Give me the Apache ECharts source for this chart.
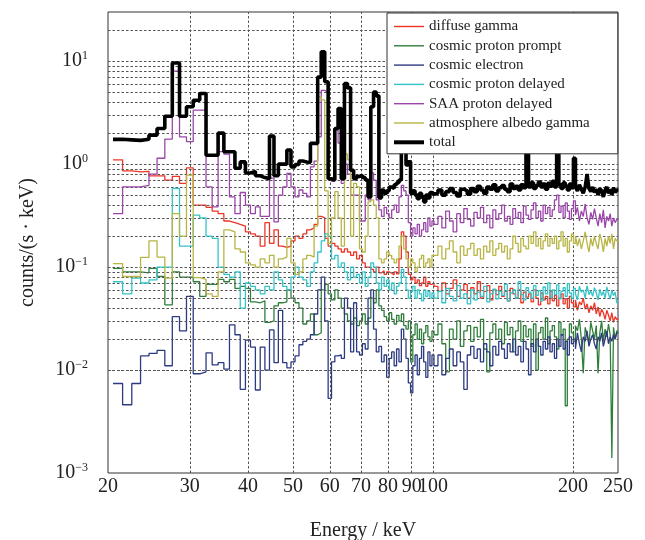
<!DOCTYPE html>
<html>
<head>
<meta charset="utf-8">
<script src="https://cdn.jsdelivr.net/npm/echarts@6/dist/echarts.min.js"></script>
<style>
html,body{margin:0;padding:0;background:#fff;}
#chart{width:645px;height:540px;}
</style>
</head>
<body>
<div id="chart"></div>
<script>
// Energy bins: 1 keV wide bins centred on 21..100 keV, then 2 keV bins up to 250.5 keV
const fineBinStart = 20.5, fineBinEnd = 100.5, fineWidth = 1;
const coarseBinEnd = 250.5, coarseWidth = 2;

const xTickValues = [20, 30, 40, 50, 60, 70, 80, 90, 100, 200, 250];
const xGridValues = [30, 40, 50, 60, 70, 80, 90, 100, 200];
const yTickValues = [0.001, 0.01, 0.1, 1, 10];
const yGridValues = [0.002,0.003,0.004,0.005,0.006,0.007,0.008,0.009,
  0.01,0.02,0.03,0.04,0.05,0.06,0.07,0.08,0.09,
  0.1,0.2,0.3,0.4,0.5,0.6,0.7,0.8,0.9,
  1,2,3,4,5,6,7,8,9,10,20];

const seriesNames = ['diffuse gamma','cosmic proton prompt','cosmic electron','cosmic proton delayed','SAA proton delayed','atmosphere albedo gamma','total'];
const seriesColors = ['#ef3426','#2f7f3b','#2c3a82','#34c4c8','#9a46a9','#b8b545','#000000'];

const diffuseGamma = [
1.1,0.86,0.84,0.85,0.77,0.77,0.70,0.76,0.65,0.92,
0.40,0.40,0.38,0.35,0.33,0.28,0.27,0.26,0.25,0.22,
0.21,0.2,0.16,0.27,0.17,0.23,0.16,0.155,0.16,0.18,
0.2,0.19,0.21,0.23,0.24,0.26,0.31,0.3,0.19,0.16,
0.17,0.16,0.15,0.14,0.15,0.14,0.13,0.14,0.12,0.13,
0.11,0.1,0.1,0.095,0.09,0.1,0.088,0.092,0.085,0.09,
0.087,0.084,0.09,0.086,0.12,0.22,0.2,0.14,0.085,0.075,
0.08,0.07,0.075,0.066,0.07,0.08,0.065,0.072,0.068,0.07,
0.065,0.058,0.07,0.055,0.062,0.075,0.052,0.06,0.068,0.05,
0.063,0.055,0.072,0.05,0.058,0.066,0.048,0.06,0.054,0.065,
0.052,0.058,0.047,0.062,0.055,0.05,0.06,0.045,0.057,0.051,
0.055,0.046,0.06,0.05,0.043,0.056,0.048,0.052,0.044,0.058,
0.047,0.053,0.042,0.05,0.055,0.044,0.049,0.04,0.052,0.045,
0.041,0.048,0.038,0.046,0.043,0.05,0.039,0.044,0.036,0.042,
0.038,0.045,0.035,0.041,0.033,0.039,0.036,0.031,0.038,0.034,
0.03,0.036,0.029,0.033,0.031];

const cosmicProtonPrompt = [
0.097,0.09,0.09,0.088,0.097,0.081,0.043,0.09,0.08,0.08,
0.072,0.052,0.068,0.068,0.076,0.072,0.076,0.062,0.065,0.062,
0.046,0.045,0.047,0.029,0.03,0.042,0.045,0.046,0.06,0.05,
0.045,0.04,0.028,0.03,0.035,0.022,0.023,0.06,0.068,0.055,
0.048,0.06,0.05,0.04,0.035,0.03,0.028,0.032,0.027,0.03,
0.035,0.028,0.032,0.05,0.045,0.06,0.042,0.038,0.033,0.03,
0.036,0.031,0.028,0.034,0.03,0.035,0.027,0.025,0.03,0.012,
0.022,0.028,0.02,0.025,0.018,0.023,0.027,0.021,0.019,0.024,
0.022,0.028,0.018,0.0096,0.025,0.02,0.03,0.017,0.024,0.027,
0.019,0.026,0.021,0.031,0.016,0.0096,0.023,0.028,0.02,0.025,
0.018,0.029,0.022,0.026,0.015,0.024,0.03,0.019,0.027,0.021,
0.025,0.017,0.028,0.01,0.023,0.026,0.02,0.032,0.018,0.024,
0.027,0.021,0.016,0.029,0.022,0.025,0.0045,0.02,0.028,0.023,
0.019,0.027,0.024,0.031,0.02,0.0093,0.026,0.022,0.018,0.029,
0.024,0.02,0.027,0.0093,0.023,0.03,0.019,0.025,0.021,0.028,
0.022,0.0014,0.026,0.02,0.024];

const cosmicElectron = [
0.0074,0.0046,0.0074,0.0137,0.0145,0.0155,0.011,0.033,0.024,0.052,
0.0092,0.0096,0.0147,0.0112,0.0118,0.0102,0.0275,0.022,0.0065,0.0195,
0.0167,0.0064,0.0167,0.01,0.0245,0.0118,0.038,0.0118,0.0105,0.012,
0.0137,0.0176,0.019,0.02,0.022,0.035,0.06,0.08,0.03,0.0053,
0.012,0.0137,0.014,0.013,0.05,0.04,0.015,0.045,0.015,0.014,
0.018,0.016,0.05,0.06,0.025,0.015,0.017,0.012,0.014,0.0085,
0.013,0.015,0.011,0.016,0.012,0.025,0.02,0.013,0.0075,0.006,
0.011,0.014,0.009,0.013,0.017,0.012,0.0085,0.015,0.011,0.014,
0.011,0.014,0.009,0.013,0.016,0.011,0.015,0.012,0.0065,0.014,
0.017,0.013,0.016,0.012,0.018,0.015,0.011,0.017,0.014,0.019,
0.016,0.013,0.018,0.015,0.02,0.014,0.017,0.012,0.019,0.016,
0.009,0.018,0.015,0.02,0.017,0.014,0.019,0.016,0.021,0.015,
0.018,0.013,0.02,0.017,0.022,0.016,0.019,0.014,0.021,0.018,
0.02,0.016,0.023,0.018,0.015,0.021,0.019,0.024,0.017,0.02,
0.022,0.018,0.016,0.021,0.019,0.023,0.017,0.02,0.024,0.018,
0.021,0.019,0.022,0.02,0.023];

const cosmicProtonDelayed = [
0.072,0.055,0.078,0.07,0.075,0.1,0.1,0.58,0.16,0.16,
0.32,0.3,0.2,0.19,0.1,0.085,0.08,0.09,0.04,0.07,
0.065,0.06,0.055,0.065,0.06,0.09,0.075,0.065,0.06,0.08,
0.1,0.08,0.075,0.065,0.09,0.11,0.14,0.18,0.21,0.2,
0.12,0.13,0.1,0.11,0.09,0.075,0.1,0.08,0.085,0.07,
0.09,0.065,0.08,0.11,0.1,0.07,0.06,0.08,0.065,0.075,
0.06,0.07,0.055,0.065,0.07,0.095,0.08,0.06,0.05,0.058,
0.065,0.05,0.06,0.055,0.047,0.06,0.052,0.058,0.05,0.056,
0.05,0.058,0.045,0.062,0.052,0.047,0.066,0.05,0.055,0.044,
0.06,0.048,0.057,0.052,0.065,0.046,0.055,0.061,0.049,0.058,
0.053,0.068,0.047,0.056,0.06,0.05,0.072,0.054,0.048,0.063,
0.057,0.05,0.066,0.053,0.059,0.047,0.064,0.055,0.07,0.051,
0.06,0.054,0.067,0.049,0.058,0.063,0.052,0.069,0.056,0.05,
0.062,0.055,0.048,0.065,0.057,0.06,0.05,0.066,0.054,0.059,
0.052,0.063,0.056,0.048,0.061,0.053,0.058,0.05,0.064,0.055,
0.049,0.06,0.053,0.057,0.045];

const saaProtonDelayed = [
0.33,0.60,0.60,0.62,0.80,1.14,1.75,8.0,1.84,1.65,
3.34,3.34,0.60,0.385,1.32,1.25,0.48,0.33,0.53,0.40,
0.33,0.385,0.31,0.31,0.73,0.275,0.5,0.6,0.81,0.6,
0.48,0.56,0.52,0.48,0.94,1.07,1.84,5.2,5.0,0.72,
0.68,2.14,1.6,0.65,1.0,0.8,0.5,0.5,0.5,0.28,
0.28,0.5,0.45,0.82,0.7,0.45,0.36,0.31,0.38,0.33,
0.3,0.36,0.4,0.34,0.48,0.62,0.55,0.5,0.27,0.2,
0.24,0.21,0.26,0.2,0.23,0.27,0.22,0.3,0.25,0.28,
0.26,0.31,0.24,0.35,0.28,0.22,0.33,0.27,0.37,0.29,
0.25,0.34,0.3,0.38,0.27,0.32,0.24,0.36,0.29,0.33,
0.4,0.28,0.31,0.26,0.37,0.3,0.34,0.27,0.39,0.32,
0.29,0.36,0.42,0.3,0.35,0.28,0.4,0.33,0.38,0.31,
0.36,0.45,0.5,0.34,0.39,0.3,0.42,0.35,0.29,0.37,
0.44,0.32,0.38,0.28,0.35,0.31,0.41,0.3,0.26,0.34,
0.29,0.37,0.3,0.25,0.33,0.27,0.36,0.24,0.31,0.28,
0.33,0.25,0.3,0.27,0.29];

const albedoGamma = [
0.108,0.081,0.081,0.124,0.18,0.125,0.078,0.33,0.2,0.78,
0.079,0.076,0.055,0.052,0.09,0.23,0.22,0.15,0.14,0.11,
0.105,0.1,0.12,0.11,0.13,0.1,0.12,0.125,0.19,0.11,
0.085,0.09,0.12,0.13,0.125,0.25,4.5,4.2,0.55,0.17,
0.3,0.54,0.3,0.16,1.25,1.1,0.2,0.65,0.6,0.15,
0.14,0.2,0.43,0.45,0.4,0.3,0.12,0.11,0.12,0.14,
0.13,0.12,0.11,0.12,0.16,0.2,0.15,0.12,0.1,0.12,
0.11,0.09,0.1,0.12,0.13,0.1,0.11,0.12,0.1,0.13,
0.13,0.16,0.12,0.15,0.18,0.14,0.11,0.16,0.13,0.15,
0.17,0.13,0.15,0.12,0.16,0.14,0.18,0.13,0.15,0.17,
0.14,0.16,0.12,0.15,0.2,0.17,0.14,0.19,0.16,0.15,
0.2,0.17,0.22,0.16,0.19,0.15,0.18,0.21,0.16,0.19,
0.17,0.2,0.15,0.18,0.22,0.16,0.19,0.14,0.18,0.21,
0.17,0.2,0.16,0.19,0.15,0.18,0.22,0.17,0.14,0.19,
0.16,0.2,0.17,0.15,0.21,0.18,0.14,0.19,0.16,0.2,
0.17,0.21,0.15,0.19,0.18];

const total = [
1.74,1.72,1.70,1.74,1.91,2.22,2.92,9.6,2.92,3.6,
4.17,4.85,1.22,1.22,2.0,1.32,1.32,0.91,1.05,0.82,
0.85,0.77,0.74,0.72,1.87,0.77,1.0,1.0,1.37,0.94,
0.99,1.07,1.05,1.04,1.59,1.59,7.0,12.3,6.3,0.72,
0.70,2.22,3.47,0.72,6.07,5.5,0.87,0.72,0.76,0.78,
0.74,0.70,0.48,3.6,5.0,4.6,0.47,0.56,0.52,0.55,
0.6,0.58,0.63,0.66,0.7,1.47,1.4,0.98,1.05,0.52,
0.55,0.5,0.46,0.52,0.48,0.43,0.5,0.47,0.53,0.51,
0.52,0.56,0.50,0.54,0.58,0.53,0.49,0.57,0.55,0.51,
0.58,0.54,0.61,0.56,0.52,0.6,0.57,0.63,0.55,0.59,
0.62,0.57,0.54,0.64,0.58,0.61,0.56,0.63,0.59,1.47,
0.6,0.66,0.58,0.62,0.67,0.6,0.64,0.57,0.65,0.61,
0.68,0.6,1.37,0.63,0.58,0.66,0.61,0.56,0.64,0.59,
1.14,0.6,0.55,0.63,0.57,0.52,0.6,0.8,0.58,0.54,
0.6,0.53,0.57,0.5,0.58,0.55,0.48,0.56,0.6,0.52,
0.57,0.5,0.59,0.53,0.56];

const seriesValues = [diffuseGamma, cosmicProtonPrompt, cosmicElectron, cosmicProtonDelayed, saaProtonDelayed, albedoGamma, total];

// bin edges
const binEdges = [];
for (let e = fineBinStart; e < fineBinEnd; e += fineWidth) binEdges.push(e);
for (let e = fineBinEnd; e <= coarseBinEnd + 1e-9; e += coarseWidth) binEdges.push(e);

function toSteps(vals) {
  const pts = vals.map((v, i) => [binEdges[i], v]);
  pts.push([binEdges[vals.length], vals[vals.length - 1]]);
  return pts;
}

const FONT = '"Liberation Serif", "DejaVu Serif", serif';
const chart = echarts.init(document.getElementById('chart'), null, {renderer: 'canvas'});

const gridLineStyle = {color: '#555', width: 1, type: [2.5, 2]};
const markData = xGridValues.map(v => ({xAxis: v})).concat(yGridValues.map(v => ({yAxis: v})));

const series = [{
  type: 'line', name: '_grid', data: [], silent: true, z: 1,
  markLine: {silent: true, symbol: ['none', 'none'], label: {show: false}, lineStyle: gridLineStyle, animation: false, data: markData}
}];
seriesNames.forEach((name, i) => {
  series.push({
    type: 'line', name: name, step: 'end', showSymbol: false, symbol: 'none',
    data: toSteps(seriesValues[i]),
    lineStyle: {color: seriesColors[i], width: i === 6 ? 3.6 : 1.3},
    itemStyle: {color: seriesColors[i]},
    z: 2 + i, animation: false
  });
});

const legendData = seriesNames.map((name, i) => ({
  name: name,
  icon: i === 6 ? 'path://M0,0H30V4H0Z' : 'path://M0,0H30V1.4H0Z',
  itemStyle: {color: seriesColors[i], borderWidth: 0}
}));

chart.setOption({
  backgroundColor: '#fff',
  animation: false,
  grid: {left: 108, right: 27, top: 12, bottom: 67, show: true, borderColor: '#333', borderWidth: 1, backgroundColor: 'transparent', containLabel: false, outerBoundsMode: 'none'},
  legend: {
    data: legendData, orient: 'vertical', left: 387, top: 13, z: 50, zlevel: 0,
    itemWidth: 30, itemHeight: 14, itemGap: 4.3,
    padding: [6, 28, 4, 7],
    backgroundColor: '#fff', borderColor: '#333', borderWidth: 1,
    textStyle: {fontFamily: FONT, fontSize: 15, color: '#222'},
    selectedMode: false
  },
  xAxis: {
    type: 'log', logBase: 10, min: 20, max: 250,
    axisLine: {show: false}, axisTick: {show: false}, splitLine: {show: false},
    axisLabel: {customValues: xTickValues, formatter: v => String(Math.round(v)), fontFamily: FONT, fontSize: 20, color: '#222', margin: 4, hideOverlap: false},
    name: 'Energy / keV', nameLocation: 'middle', nameGap: 48,
    nameTextStyle: {fontFamily: FONT, fontSize: 20, color: '#222'}
  },
  yAxis: {
    type: 'log', logBase: 10, min: 0.001, max: 30,
    axisLine: {show: false}, axisTick: {show: false}, splitLine: {show: false},
    axisLabel: {
      customValues: yTickValues,
      formatter: v => { const e = Math.round(Math.log10(v)); return '{b|10}{s|' + String(e).replace('-', '\u2212') + '}'; },
      margin: 20,
      rich: {
        b: {fontFamily: FONT, fontSize: 20, color: '#222', lineHeight: 22},
        s: {fontFamily: FONT, fontSize: 12, color: '#222', verticalAlign: 'top', lineHeight: 22, padding: [0, 0, 10, 0]}
      }
    },
    name: 'counts/(s \u00b7 keV)', nameLocation: 'middle', nameGap: 70, nameRotate: 90,
    nameTextStyle: {fontFamily: FONT, fontSize: 20, color: '#222'}
  },
  series: series
});
</script>
</body>
</html>
